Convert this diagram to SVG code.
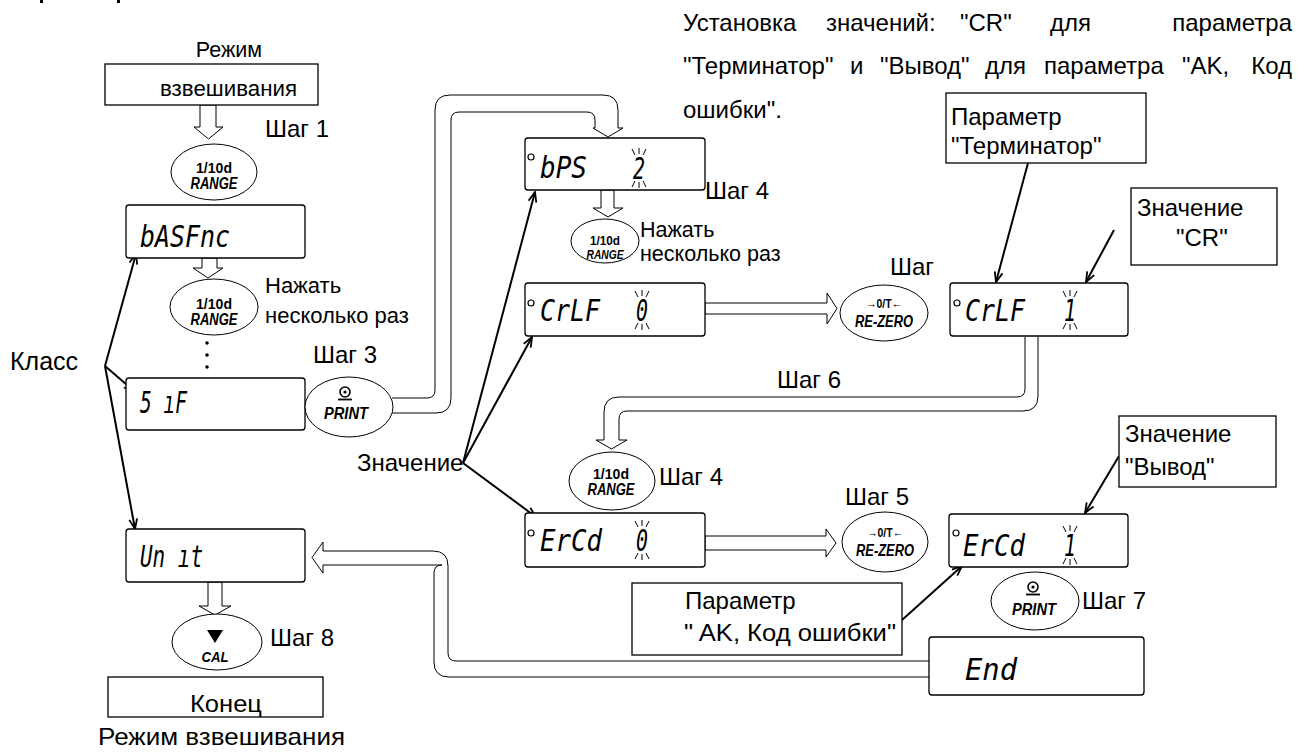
<svg xmlns="http://www.w3.org/2000/svg" width="1306" height="754" viewBox="0 0 1306 754">
<style>
.t{font-family:"Liberation Sans",Arial,sans-serif;fill:#000}
.s21{font-size:21.5px}.s24{font-size:24px}.p{font-size:24px}
.seg{font-family:"DejaVu Sans Mono",monospace;font-style:oblique;font-size:30px;fill:#000}
.box{fill:#fff;stroke:#000;stroke-width:1.3}
.disp{fill:#fff;stroke:#000;stroke-width:1.3}
.btn{fill:#fff;stroke:#000;stroke-width:1}
.hol{fill:#fff;stroke:#000;stroke-width:1}
.pipe{fill:none;stroke:#000;stroke-width:1}
.ln{fill:none;stroke:#000;stroke-width:2;marker-end:url(#ah)}
.bt{font-family:"Liberation Sans Narrow","Liberation Sans",Arial,sans-serif;font-weight:bold;fill:#000;text-anchor:middle}
.bi{font-style:italic}
.tk{stroke:#000;stroke-width:1}
</style>
<defs>
<marker id="ah" markerUnits="userSpaceOnUse" markerWidth="12" markerHeight="10" viewBox="0 0 12 10" refX="11" refY="5" orient="auto">
<path d="M1,1 L11,5 L1,9" fill="none" stroke="#000" stroke-width="1.8"/>
</marker>
<g id="blink" class="tk">
<line x1="-7" y1="-19" x2="-4" y2="-13"/><line x1="0" y1="-20" x2="0" y2="-14"/><line x1="7" y1="-19" x2="4" y2="-13"/>
<line x1="-7" y1="19" x2="-4" y2="13"/><line x1="0" y1="20" x2="0" y2="14"/><line x1="7" y1="19" x2="4" y2="13"/>
</g>
</defs>
<rect width="1306" height="754" fill="#fff"/>
<rect x="40" y="0" width="3" height="3" fill="#000"/>
<rect x="117" y="0" width="3" height="3" fill="#000"/>

<g id="description">
<text class="t p" y="31"><tspan x="683">Установка</tspan><tspan x="826">значений:</tspan><tspan x="960">"CR"</tspan><tspan x="1050">для</tspan><tspan x="1292" text-anchor="end">параметра</tspan></text>
<text class="t p" y="74"><tspan x="683">"Терминатор"</tspan><tspan x="850">и</tspan><tspan x="880">"Вывод"</tspan><tspan x="985">для</tspan><tspan x="1044">параметра</tspan><tspan x="1182">"AK,</tspan><tspan x="1292" text-anchor="end">Код</tspan></text>
<text class="t p" x="683" y="118">ошибки".</text>
</g>

<g id="connectors">
<polygon class="hol" points="200,105 200,127 194,127 208.5,139 223,127 216,127 216,105"/>
<polygon class="hol" points="202,258 202,268 193,268 208,278 223,268 217,268 217,258"/>
<polygon class="hol" points="208,582 208,606 199,606 215,615 231,606 222,606 222,582"/>
<polygon class="hol" points="601,190 601,208 593,208 608,217 623,208 614,208 614,190"/>
<polygon class="hol" points="705,303 827,303 827,293 837,308.5 827,324 827,314 705,314"/>
<polygon class="hol" points="705,536 826,536 826,529 836,543 826,557 826,550 705,550"/>
<path class="pipe" d="M392,398 H427 Q435,398 435,390 V110 Q435,95 450,95 H603 Q618,95 618,110 V128 H623 L608,137 L593,128 H595 V120 Q595,112 587,112 H459 Q451,112 451,120 V398 Q451,413 436,413 H392"/>
<path class="pipe" d="M1025,337 V389 Q1025,397 1017,397 H619 Q604,397 604,412 V440 H596 L611.5,449 L627,440 H619 V419 Q619,411 627,411 H1023 Q1038,411 1038,396 V337"/>
<path class="pipe" d="M929,661 H456 Q448,661 448,653 V566 Q448,551 433,551 H323 V542 L312,557.5 L323,573 V565 H442 Q434,565 434,573 V662 Q434,677 449,677 H929"/>
<path class="ln" d="M105,366 L136,254"/>
<path class="ln" d="M105,366 L134,391"/>
<path class="ln" d="M105,366 L135,529"/>
<path class="ln" d="M463,463 L535,192"/>
<path class="ln" d="M463,463 L532,337"/>
<path class="ln" d="M463,463 L536,517"/>
<path class="ln" d="M1028,163 L996,282"/>
<path class="ln" d="M1114,230 L1086,282"/>
<path class="ln" d="M1119,456 L1085,513"/>
<path class="ln" d="M902,620 L962,566"/>
</g>

<g id="start">
<text class="t s21" x="229" y="57" text-anchor="middle">Режим</text>
<rect class="box" x="105" y="64" width="213" height="41"/>
<text class="t s21" x="160" y="96" textLength="137" lengthAdjust="spacingAndGlyphs">взвешивания</text>
</g>
<g id="step1">
<text class="t s24" x="265" y="137">Шаг 1</text>
</g>
<g id="btn-range1">
<ellipse class="btn" cx="214" cy="172" rx="43" ry="28"/>
<text class="bt" x="214" y="173" font-size="15.5" textLength="36" lengthAdjust="spacingAndGlyphs">1/10d</text>
<text class="bt bi" x="214" y="189" font-size="16" textLength="47" lengthAdjust="spacingAndGlyphs">RANGE</text>
</g>
<g id="disp-basfnc">
<rect class="disp" x="126" y="205" width="179" height="53" rx="3"/>
<text class="seg" x="140" y="247" textLength="90" lengthAdjust="spacingAndGlyphs">bASFnc</text>
</g>
<g id="btn-range2">
<ellipse class="btn" cx="214" cy="307" rx="44" ry="28"/>
<text class="bt" x="214" y="309" font-size="15.5" textLength="36" lengthAdjust="spacingAndGlyphs">1/10d</text>
<text class="bt bi" x="214" y="325" font-size="16" textLength="47" lengthAdjust="spacingAndGlyphs">RANGE</text>
</g>
<g id="press1">
<text class="t" font-size="22" x="265" y="293">Нажать</text>
<text class="t" font-size="22" x="265" y="323">несколько раз</text>
</g>
<g id="dots">
<circle cx="207" cy="343" r="1.8"/><circle cx="207" cy="355" r="1.8"/><circle cx="207" cy="367" r="1.8"/>
</g>
<g id="step3"><text class="t s24" x="313" y="363">Шаг 3</text></g>
<g id="class-label">
<text class="t" font-size="25" x="10" y="370">Класс</text>
</g>
<g id="disp-sif">
<rect class="disp" x="126" y="378" width="179" height="52" rx="3"/>
<text class="seg" x="140" y="413" textLength="47" lengthAdjust="spacingAndGlyphs">5 ıF</text>
</g>
<g id="btn-print1">
<ellipse class="btn" cx="349" cy="407" rx="44" ry="30"/>
<circle cx="345" cy="392" r="5" fill="none" stroke="#000" stroke-width="1.6"/>
<circle cx="345" cy="392" r="1.6"/>
<line x1="338" y1="399.5" x2="352" y2="399.5" stroke="#000" stroke-width="1.8"/>
<text class="bt bi" x="346" y="419" font-size="16" textLength="44" lengthAdjust="spacingAndGlyphs">PRINT</text>
</g>
<g id="disp-unit">
<rect class="disp" x="126" y="529" width="179" height="53" rx="3"/>
<text class="seg" x="140" y="567" textLength="63" lengthAdjust="spacingAndGlyphs">Un ıt</text>
</g>
<g id="btn-cal">
<ellipse class="btn" cx="217" cy="642" rx="45" ry="28"/>
<polygon points="207,630 223,630 215,643"/>
<text class="bt bi" x="215" y="662" font-size="15" textLength="27" lengthAdjust="spacingAndGlyphs">CAL</text>
</g>
<g id="step8"><text class="t s24" x="270" y="646">Шаг 8</text></g>
<g id="end-mode">
<rect class="box" x="108" y="677" width="215" height="40"/>
<text class="t" font-size="24" x="190" y="712" textLength="72" lengthAdjust="spacingAndGlyphs">Конец</text>
<text class="t" font-size="24" x="98" y="745" textLength="247" lengthAdjust="spacingAndGlyphs">Режим взвешивания</text>
</g>

<g id="disp-bps">
<rect class="disp" x="525" y="138" width="180" height="52" rx="3"/>
<circle cx="531" cy="157" r="3" fill="none" stroke="#000" stroke-width="1.2"/>
<text class="seg" x="540" y="178" textLength="47" lengthAdjust="spacingAndGlyphs">bPS</text>
<text class="seg" x="633" y="179" textLength="12" lengthAdjust="spacingAndGlyphs">2</text>
<use href="#blink" x="639" y="168"/>
</g>
<g id="step4a"><text class="t s24" x="705" y="199">Шаг 4</text></g>
<g id="btn-range3">
<ellipse class="btn" cx="605" cy="241" rx="34" ry="22"/>
<text class="bt" x="605" y="245" font-size="12.5" textLength="30" lengthAdjust="spacingAndGlyphs">1/10d</text>
<text class="bt bi" x="605" y="259" font-size="13.5" textLength="37" lengthAdjust="spacingAndGlyphs">RANGE</text>
</g>
<g id="press2">
<text class="t s21" x="640" y="237">Нажать</text>
<text class="t s21" x="640" y="261">несколько раз</text>
</g>
<g id="disp-crlf0">
<rect class="disp" x="525" y="283" width="180" height="53" rx="3"/>
<circle cx="531" cy="303" r="3" fill="none" stroke="#000" stroke-width="1.2"/>
<text class="seg" x="540" y="321" textLength="60" lengthAdjust="spacingAndGlyphs">CrLF</text>
<text class="seg" x="636" y="321" textLength="12" lengthAdjust="spacingAndGlyphs">0</text>
<use href="#blink" x="642" y="310"/>
</g>
<g id="btn-rezero1">
<ellipse class="btn" cx="884" cy="313" rx="44" ry="28"/>
<text class="bt" x="884" y="308" font-size="13" textLength="36" lengthAdjust="spacingAndGlyphs">→0/T←</text>
<text class="bt bi" x="884" y="327" font-size="16" textLength="58" lengthAdjust="spacingAndGlyphs">RE-ZERO</text>
</g>
<g id="step5a"><text class="t s24" x="890" y="275">Шаг</text></g>
<g id="param-term">
<rect class="box" x="946" y="93" width="200" height="70"/>
<text class="t" font-size="24" x="951" y="125">Параметр</text>
<text class="t" font-size="24" x="951" y="154">"Терминатор"</text>
</g>
<g id="value-cr">
<rect class="box" x="1131" y="188" width="146" height="77"/>
<text class="t" font-size="24" x="1137" y="216">Значение</text>
<text class="t" font-size="24" x="1176" y="246">"CR"</text>
</g>
<g id="disp-crlf1">
<rect class="disp" x="950" y="283" width="178" height="53" rx="3"/>
<circle cx="957" cy="303" r="3" fill="none" stroke="#000" stroke-width="1.2"/>
<text class="seg" x="965" y="321" textLength="60" lengthAdjust="spacingAndGlyphs">CrLF</text>
<text class="seg" x="1064" y="321" textLength="12" lengthAdjust="spacingAndGlyphs">1</text>
<use href="#blink" x="1070" y="310"/>
</g>
<g id="step6"><text class="t s24" x="777" y="388">Шаг 6</text></g>
<g id="value-label">
<text class="t" font-size="24" x="357" y="471">Значение</text>
</g>
<g id="btn-range4">
<ellipse class="btn" cx="612" cy="481" rx="43" ry="29"/>
<text class="bt" x="611" y="479" font-size="15.5" textLength="36" lengthAdjust="spacingAndGlyphs">1/10d</text>
<text class="bt bi" x="611" y="495" font-size="16" textLength="47" lengthAdjust="spacingAndGlyphs">RANGE</text>
</g>
<g id="step4b"><text class="t s24" x="659" y="485">Шаг 4</text></g>
<g id="disp-ercd0">
<rect class="disp" x="525" y="513" width="180" height="54" rx="3"/>
<circle cx="531" cy="533" r="3" fill="none" stroke="#000" stroke-width="1.2"/>
<text class="seg" x="540" y="551" textLength="62" lengthAdjust="spacingAndGlyphs">ErCd</text>
<text class="seg" x="636" y="551" textLength="12" lengthAdjust="spacingAndGlyphs">0</text>
<use href="#blink" x="642" y="540"/>
</g>
<g id="step5b"><text class="t s24" x="845" y="505">Шаг 5</text></g>
<g id="btn-rezero2">
<ellipse class="btn" cx="885" cy="542" rx="43" ry="30"/>
<text class="bt" x="885" y="537" font-size="13" textLength="36" lengthAdjust="spacingAndGlyphs">→0/T←</text>
<text class="bt bi" x="885" y="556" font-size="16" textLength="58" lengthAdjust="spacingAndGlyphs">RE-ZERO</text>
</g>
<g id="value-out">
<rect class="box" x="1119" y="416" width="157" height="71"/>
<text class="t" font-size="24" x="1125" y="442">Значение</text>
<text class="t" font-size="24" x="1125" y="475">"Вывод"</text>
</g>
<g id="disp-ercd1">
<rect class="disp" x="949" y="514" width="179" height="53" rx="3"/>
<circle cx="956" cy="533" r="3" fill="none" stroke="#000" stroke-width="1.2"/>
<text class="seg" x="963" y="556" textLength="62" lengthAdjust="spacingAndGlyphs">ErCd</text>
<text class="seg" x="1064" y="556" textLength="12" lengthAdjust="spacingAndGlyphs">1</text>
<use href="#blink" x="1070" y="545"/>
</g>
<g id="param-ak">
<rect class="box" x="632" y="583" width="270" height="72"/>
<text class="t" font-size="24" x="685" y="609">Параметр</text>
<text class="t" font-size="24" x="684" y="641" textLength="212" lengthAdjust="spacingAndGlyphs">" AK, Код ошибки"</text>
</g>
<g id="btn-print2">
<ellipse class="btn" cx="1035" cy="601" rx="44" ry="29"/>
<circle cx="1033" cy="587" r="5" fill="none" stroke="#000" stroke-width="1.6"/>
<circle cx="1033" cy="587" r="1.6"/>
<line x1="1026" y1="594.5" x2="1040" y2="594.5" stroke="#000" stroke-width="1.8"/>
<text class="bt bi" x="1034" y="615" font-size="16" textLength="44" lengthAdjust="spacingAndGlyphs">PRINT</text>
</g>
<g id="step7"><text class="t s24" x="1082" y="609">Шаг 7</text></g>
<g id="disp-end">
<rect class="disp" x="929" y="637" width="215" height="58" rx="3"/>
<text class="seg" x="965" y="680" textLength="52" lengthAdjust="spacingAndGlyphs">End</text>
</g>
</svg>
